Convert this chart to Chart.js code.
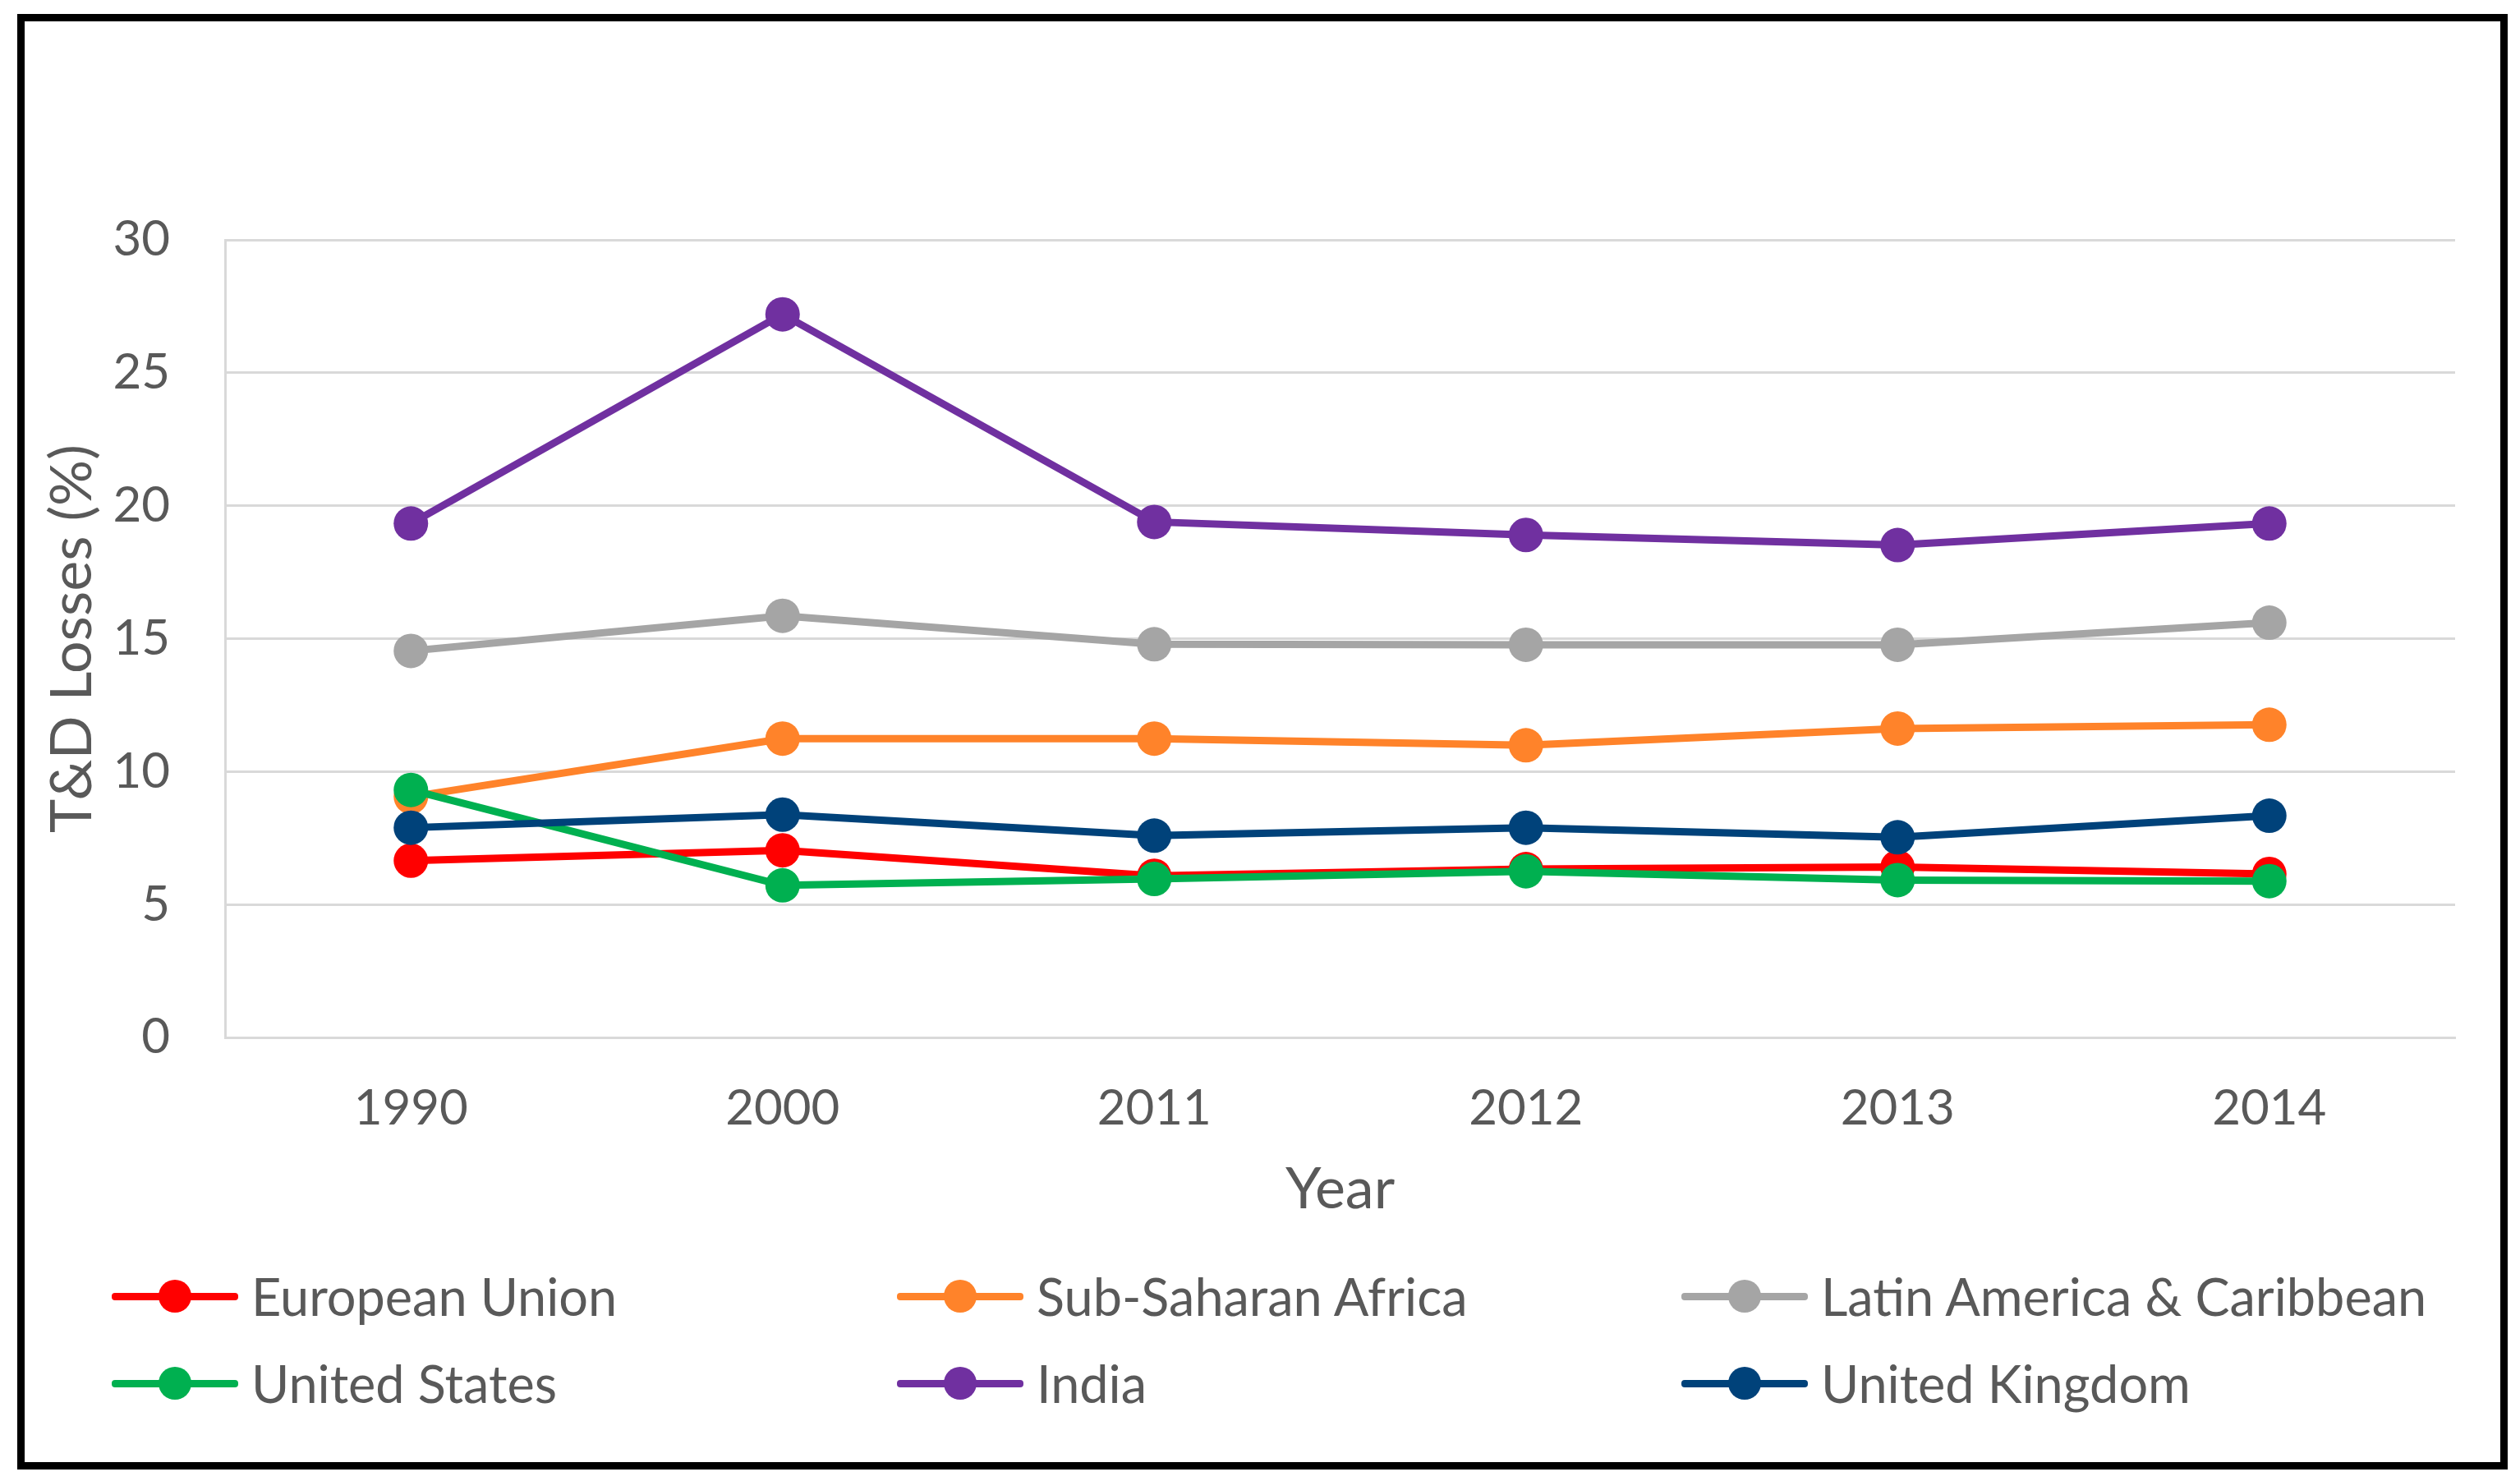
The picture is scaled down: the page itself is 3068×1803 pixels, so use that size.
<!DOCTYPE html>
<html>
<head>
<meta charset="utf-8">
<script src="https://cdn.jsdelivr.net/npm/chart.js@4/dist/chart.umd.min.js"></script>
<style>
  html, body { margin: 0; padding: 0; background: #fff; }
  body { width: 3068px; height: 1803px; position: relative; overflow: hidden; font-family: Lato, "Open Sans", sans-serif; }
  #c { position: absolute; left: 0; top: 0; }
  #frame { position: absolute; left: 21px; top: 17px; width: 3032px; height: 1772px; box-sizing: border-box; border: 9px solid #000; pointer-events: none; }
  .lg { position: absolute; height: 60px; white-space: nowrap; }
  .lg .ln { position: absolute; left: 0; top: 26px; width: 154px; height: 9px; border-radius: 4px; }
  .lg .dot { position: absolute; left: 57px; top: 10px; width: 40px; height: 40px; border-radius: 50%; }
  .lg .tx { position: absolute; left: 170px; top: -2px; line-height: 64px; font-size: 63px; color: #595959; font-family: Lato, sans-serif; }
</style>
</head>
<body>
<canvas id="c" width="3068" height="1803" style="width:3068px;height:1803px"></canvas>
<div id="legend"></div>
<div id="frame"></div>
<script>
const categories = ['1990', '2000', '2011', '2012', '2013', '2014'];
const seriesNames = ['European Union', 'Sub-Saharan Africa', 'Latin America & Caribbean', 'United States', 'India', 'United Kingdom'];
const euValues    = [6.65, 7.04, 6.08, 6.33, 6.41, 6.15];
const ssaValues   = [9.05, 11.24, 11.24, 10.99, 11.62, 11.76];
const lacValues   = [14.54, 15.86, 14.79, 14.77, 14.77, 15.60];
const usValues    = [9.31, 5.72, 5.96, 6.25, 5.92, 5.88];
const indiaValues = [19.33, 27.20, 19.39, 18.90, 18.52, 19.33];
const ukValues    = [7.89, 8.38, 7.59, 7.89, 7.53, 8.34];
const seriesColors = ['#FF0000', '#FF832A', '#A5A5A5', '#00B050', '#7030A0', '#00427A'];
const yTicks = [0, 5, 10, 15, 20, 25, 30];
const yTitle = 'T&D Losses (%)';
const xTitle = 'Year';

const allValues = [euValues, ssaValues, lacValues, usValues, indiaValues, ukValues];

const datasets = seriesNames.map((name, i) => ({
  label: name,
  data: allValues[i],
  borderColor: seriesColors[i],
  backgroundColor: seriesColors[i],
  pointBackgroundColor: seriesColors[i],
  pointBorderColor: seriesColors[i],
  pointBorderWidth: 0,
  pointRadius: 21,
  pointHoverRadius: 21,
  borderWidth: 9,
  tension: 0,
  fill: false,
  order: seriesNames.length - i
}));

const tickFont = { family: 'Lato', size: 60 };
const titleFont = { family: 'Lato', size: 70 };

new Chart(document.getElementById('c'), {
  type: 'line',
  data: { labels: categories, datasets },
  options: {
    responsive: false,
    animation: false,
    devicePixelRatio: 1,
    layout: { padding: { left: 0, top: 292, right: 79, bottom: 313 } },
    plugins: { legend: { display: false }, tooltip: { enabled: false } },
    scales: {
      x: {
        type: 'category',
        offset: true,
        grid: { display: false, drawTicks: false },
        border: { display: true, color: '#d9d9d9', width: 3 },
        ticks: { color: '#595959', font: tickFont, padding: 51, maxRotation: 0 },
        title: { display: true, text: xTitle, color: '#595959', font: titleFont, padding: { top: 0, bottom: 0 } },
        afterFit: s => { s.height = 227; }
      },
      y: {
        min: 0, max: 30,
        afterBuildTicks: s => { s.ticks = yTicks.map(v => ({ value: v })); },
        grid: { color: '#d9d9d9', lineWidth: 3, drawTicks: false },
        border: { display: true, color: '#d9d9d9', width: 3 },
        ticks: { color: '#595959', font: tickFont, padding: 67 },
        title: { display: true, text: yTitle, color: '#595959', font: titleFont, padding: { top: 46, bottom: 0 } },
        afterFit: s => { s.width = 274; }
      }
    }
  }
});

// HTML legend: 3 columns x 2 rows
const legend = document.getElementById('legend');
const colX = [136, 1092, 2047];
const rowY = [1548, 1654];
seriesNames.forEach((name, i) => {
  const item = document.createElement('div');
  item.className = 'lg';
  item.style.left = colX[i % 3] + 'px';
  item.style.top = rowY[Math.floor(i / 3)] + 'px';
  item.innerHTML = '<div class="ln"></div><div class="dot"></div><div class="tx"></div>';
  item.querySelector('.ln').style.background = seriesColors[i];
  item.querySelector('.dot').style.background = seriesColors[i];
  item.querySelector('.tx').textContent = name;
  legend.appendChild(item);
});
</script>
</body>
</html>
